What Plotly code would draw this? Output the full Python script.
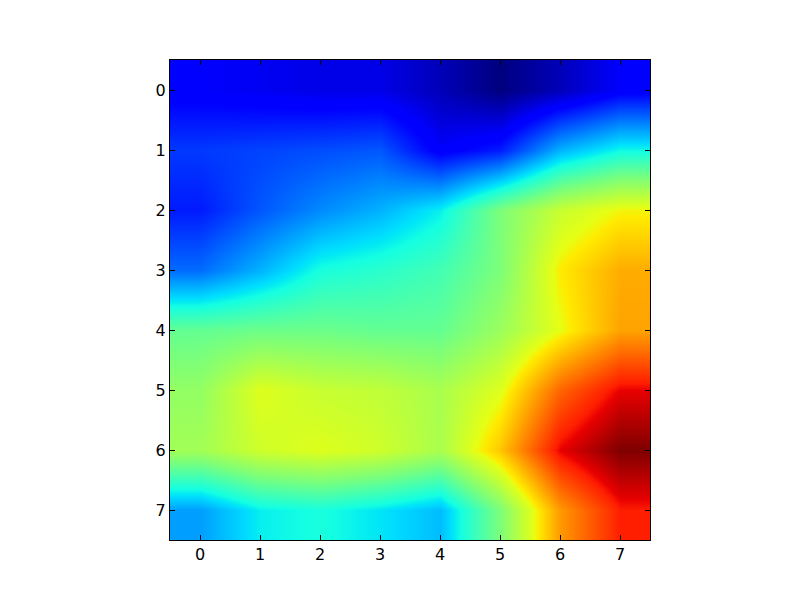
import plotly.graph_objects as go

ticks = [0, 1, 2, 3, 4, 5, 6, 7]

row0 = [0.11, 0.10, 0.09, 0.09, 0.05, 0.00, 0.05, 0.11]
row1 = [0.18, 0.19, 0.20, 0.21, 0.11, 0.15, 0.30, 0.37]
row2 = [0.15, 0.21, 0.26, 0.30, 0.36, 0.50, 0.60, 0.65]
row3 = [0.23, 0.30, 0.38, 0.40, 0.43, 0.50, 0.66, 0.73]
row4 = [0.47, 0.48, 0.48, 0.47, 0.47, 0.54, 0.64, 0.74]
row5 = [0.53, 0.63, 0.60, 0.59, 0.56, 0.63, 0.81, 0.91]
row6 = [0.55, 0.61, 0.63, 0.61, 0.56, 0.70, 0.91, 1.00]
row7 = [0.28, 0.36, 0.38, 0.35, 0.31, 0.50, 0.75, 0.89]

# matplotlib's jet
jet = [
    [0.0, "rgb(0,0,127)"],
    [0.11, "rgb(0,0,255)"],
    [0.125, "rgb(0,0,255)"],
    [0.34, "rgb(0,219,255)"],
    [0.35, "rgb(0,229,247)"],
    [0.375, "rgb(20,255,226)"],
    [0.5, "rgb(124,255,121)"],
    [0.64, "rgb(229,255,20)"],
    [0.66, "rgb(255,234,0)"],
    [0.89, "rgb(255,30,0)"],
    [0.91, "rgb(232,0,0)"],
    [1.0, "rgb(127,0,0)"],
]

fig = go.Figure()
fig.add_trace(go.Heatmap(
    z=[row0, row1, row2, row3, row4, row5, row6, row7],
    x=ticks, y=ticks,
    zmin=0, zmax=1,
    zsmooth="best",
    colorscale=jet,
    showscale=False,
))

axis = dict(
    tickmode="array", tickvals=ticks, ticktext=[str(t) for t in ticks],
    ticks="inside", ticklen=5, tickwidth=1, tickcolor="black",
    showline=True, linecolor="black", linewidth=1, mirror="ticks",
    showgrid=False, zeroline=False,
)
fig.update_xaxes(range=[-0.5, 7.5], **axis)
fig.update_yaxes(range=[7.5, -0.5], **axis)

fig.update_layout(
    width=800, height=600,
    margin=dict(l=162, r=158, t=52, b=68),
    paper_bgcolor="white", plot_bgcolor="white",
    font=dict(family="DejaVu Sans", size=16, color="black"),
)

fig.write_html("out.html")
